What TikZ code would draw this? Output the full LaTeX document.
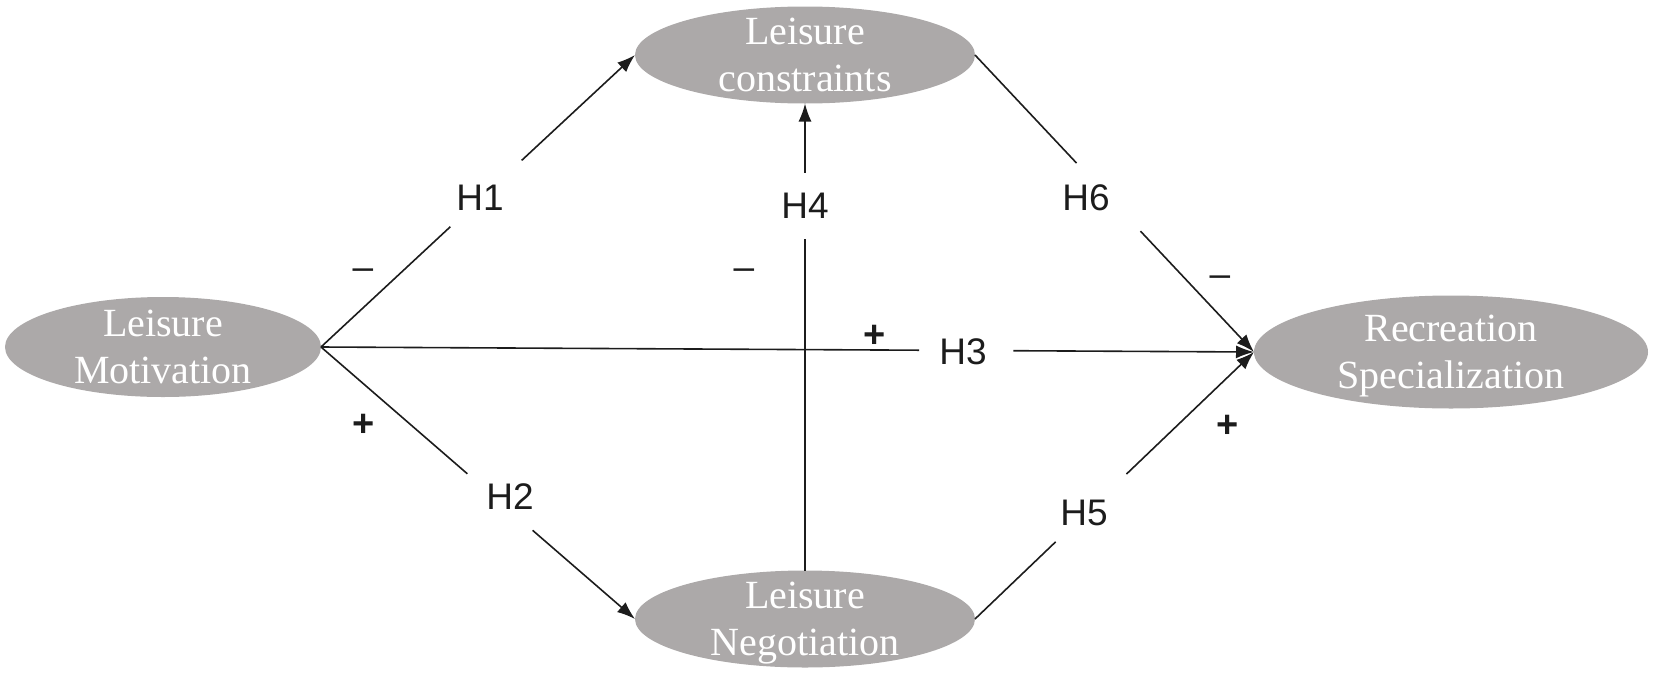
\documentclass[tikz,border=0pt]{standalone}
\usepackage{fontspec}
\setmainfont{Liberation Serif}
\newfontfamily\lblfont{Liberation Sans}
\usetikzlibrary{shapes.geometric,arrows.meta,calc}
\definecolor{ellgray}{RGB}{172,169,169}
\definecolor{ink}{RGB}{28,28,28}
\tikzset{
 latent/.style={ellipse, fill=ellgray, inner sep=0pt, outer sep=0pt},
 latenttext/.style={text=white, font=\fontsize{40}{47}\selectfont, align=center, inner sep=0pt, text depth=0pt},
 conn/.style={draw=ink, line width=1.6pt},
 arr/.style={conn, -{Latex[length=18pt,width=13pt]}},
 hyp/.style={font=\lblfont\fontsize{37}{40}\selectfont, text=ink, inner sep=0pt},
 sgnm/.style={font=\lblfont\fontsize{37}{40}\selectfont, text=ink, inner sep=0pt},
 sgnp/.style={font=\lblfont\bfseries\fontsize{38}{40}\selectfont, text=ink, inner sep=0pt},
}
\begin{document}
\begin{tikzpicture}[x=1pt,y=-1pt]
\useasboundingbox (0,0) rectangle (1654,675);
% constructs
\node[latent, minimum width=316pt, minimum height=100pt,
      label={[latenttext]center:Leisure\\Motivation}] (mot) at (163,347) {};
\node[latent, minimum width=340pt, minimum height=97pt,
      label={[latenttext]center:Leisure\\constraints}] (con) at (805,55) {};
\node[latent, minimum width=340pt, minimum height=97pt,
      label={[latenttext]center:Leisure\\Negotiation}] (neg) at (805,619) {};
\node[latent, minimum width=394pt, minimum height=113pt,
      label={[latenttext]center:Recreation\\Specialization}] (rec) at (1451,352) {};
% H1
\draw[conn] (mot.east) -- ($(mot.east)!0.412!(con.west)$);
\draw[arr] ($(mot.east)!0.639!(con.west)$) -- (con.west);
% H2
\draw[conn] (mot.east) -- ($(mot.east)!0.466!(neg.west)$);
\draw[arr] ($(mot.east)!0.674!(neg.west)$) -- (neg.west);
% H3
\draw[conn] (mot.east) -- ($(mot.east)!0.641!(rec.west)$);
\draw[arr] ($(mot.east)!0.742!(rec.west)$) -- (rec.west);
% H4
\draw[conn] (neg.north) -- ($(neg.north)!0.709!(con.south)$);
\draw[arr] ($(neg.north)!0.852!(con.south)$) -- (con.south);
% H6
\draw[conn] (con.east) -- ($(con.east)!0.364!(rec.west)$);
\draw[arr] ($(con.east)!0.593!(rec.west)$) -- (rec.west);
% H5
\draw[conn] (neg.east) -- ($(neg.east)!0.289!(rec.west)$);
\draw[arr] ($(neg.east)!0.543!(rec.west)$) -- (rec.west);
% hypothesis labels
\node[hyp] (h1) at (480,198) {H1};
\node[hyp] (h2) at (510,497) {H2};
\node[hyp] (h3) at (963,352) {H3};
\node[hyp] (h4) at (805,206) {H4};
\node[hyp] (h5) at (1084,513) {H5};
\node[hyp] (h6) at (1086,198) {H6};
% signs
\node[sgnm] (s1) at (363,274) {–};
\node[sgnm] (s4) at (744,274) {–};
\node[sgnm] (s6) at (1220,281) {–};
\node[sgnp] (s3) at (875,336) {+};
\node[sgnp] (s2) at (364,425) {+};
\node[sgnp] (s5) at (1228,426) {+};
\end{tikzpicture}
\end{document}
